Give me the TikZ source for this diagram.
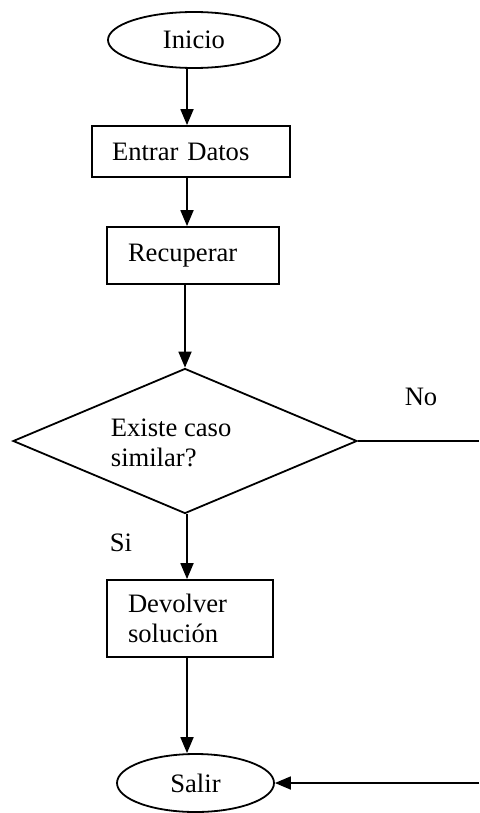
\documentclass[tikz,border=0pt]{standalone}
\usepackage{fontspec}
\setmainfont{Liberation Serif}
\usetikzlibrary{shapes.geometric,arrows.meta}
\begin{document}
\begin{tikzpicture}[x=0.5pt,y=-0.5pt,
  line width=0.9pt,
  every node/.style={font=\fontsize{13.3}{15}\selectfont},
  terminal/.style={draw,ellipse,inner sep=0pt,minimum width=#1},
  procbox/.style={draw,rectangle,align=left,inner ysep=0pt,inner xsep=10.5pt},
  decision/.style={draw,diamond,inner sep=0pt,minimum width=172pt,minimum height=72.5pt},
  plain/.style={inner sep=0pt,align=left},
  arr/.style={-{Triangle[length=8pt,width=6.5pt]}}
]
\useasboundingbox (0,0) rectangle (479,813);

% start and end terminals
\node[terminal=86pt,minimum height=28pt] (inicio) at (194,40) {Inicio};
\node[terminal=78.5pt,minimum height=29pt] (salir) at (195.5,783) {Salir};

% process boxes
\node[procbox,inner xsep=10pt,text width=79pt,minimum height=25.5pt] (entrar) at (191,151.5) {Entrar Datos};
\node[procbox,text width=65pt,minimum height=28.5pt] (recup) at (193,255.5) {Recuperar};
\node[procbox,text width=62pt,minimum height=38.5pt] (devol) at (190,618.5) {Devolver\\solución};

% decision
\node[decision] (q) at (185,441) {};
\node[plain,anchor=west] (qtext) at (110,443) {Existe caso\\similar?};

% branch labels
\node[plain] (nolab) at (421,397) {No};
\node[plain] (silab) at (121,543) {Si};

% vertical flow line
\coordinate (spine) at (187,0);
\coordinate (noend) at (479,441);
\coordinate (back) at (479,783);

\draw[arr] (inicio.south -| spine) -- (entrar.north -| spine);
\draw[arr] (entrar.south -| spine) -- (recup.north -| spine);
\draw[arr] (recup.south -| q.north) -- (q.north);
\draw[arr] (q.south -| spine) -- (devol.north -| spine);
\draw[arr] (devol.south -| spine) -- (salir.north -| spine);

% "No" branch
\draw (q.east) -- (noend);
\draw[arr] (back) -- (salir.east);
\end{tikzpicture}
\end{document}
